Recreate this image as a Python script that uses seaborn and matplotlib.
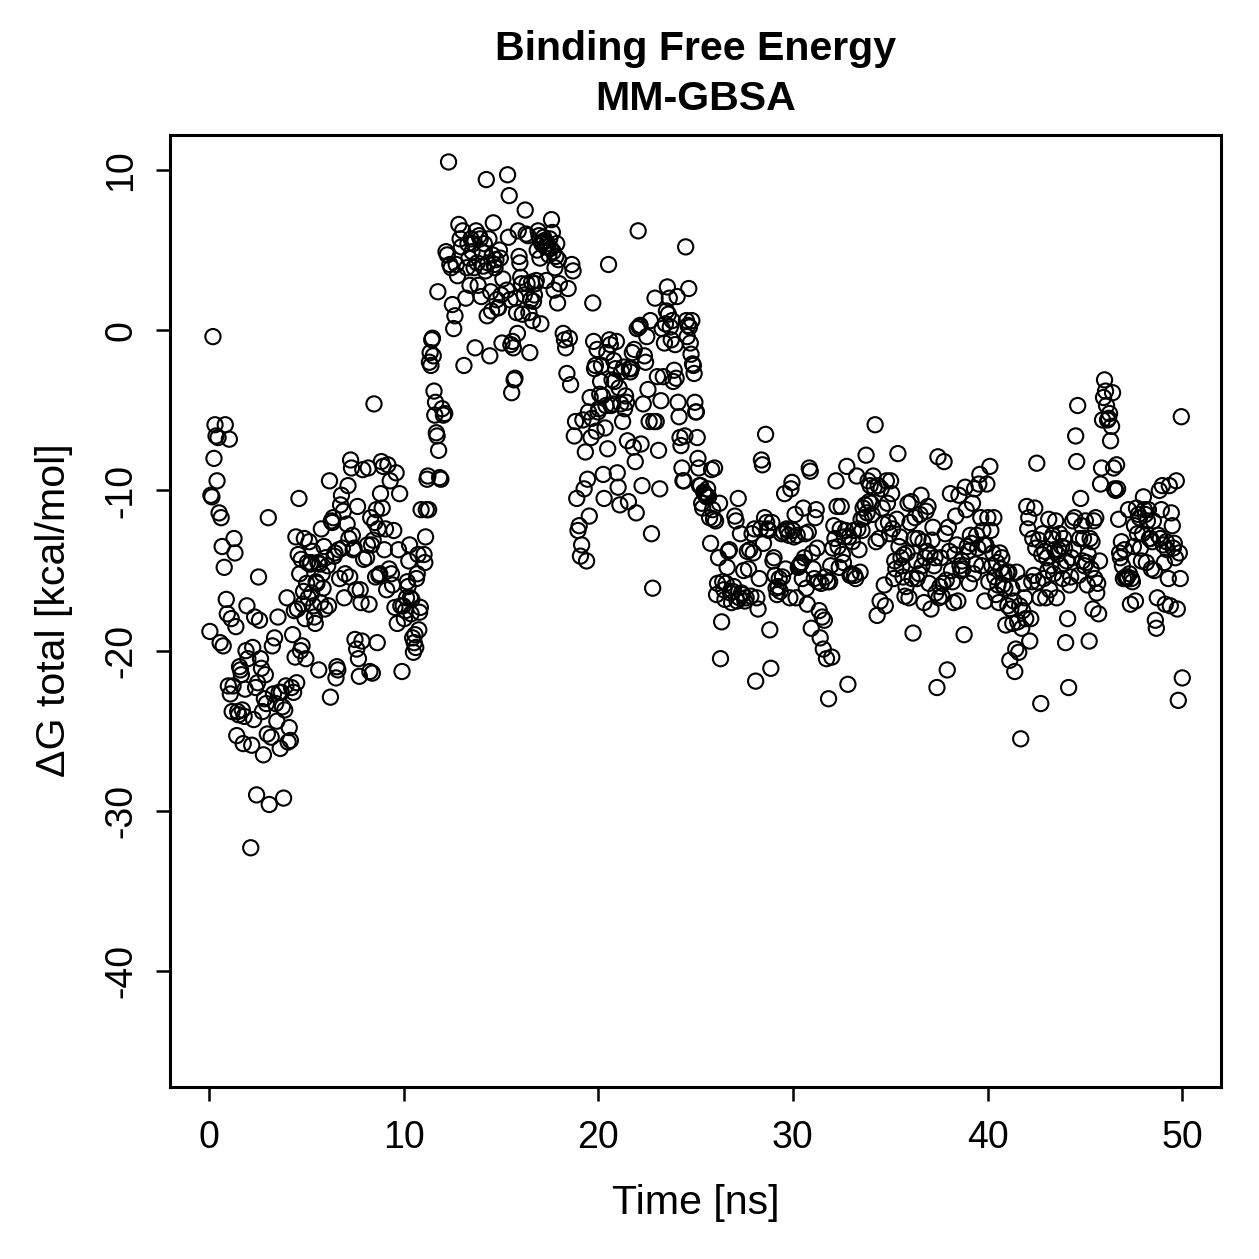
"""Binding free energy (MM-GBSA) over the trajectory, drawn like the R base plot."""
import numpy as np
import pandas as pd
import seaborn as sns
import matplotlib.pyplot as plt

# time window (ns) of each block of frames
block_start = [0.05, 1.1, 2.15, 3.2, 4.35, 5.15, 6.1, 7.1, 8.1, 8.95,
               10.15, 11.05, 11.85, 13.2, 14.25, 15.3, 16.2, 17.15, 18.2, 19.45,
               20.35, 21.25, 22.25, 23.45, 24.45, 25.26, 26.28, 27.41, 28.38, 29.41,
               30.43, 31.45, 32.48, 33.5, 34.53, 35.55, 36.58, 37.6, 38.63, 39.65,
               40.68, 41.7, 42.73, 43.75, 44.78, 45.8, 46.82, 47.85, 48.87]
block_end = [1.05, 2.0, 3.1, 4.3, 5.1, 6.0, 7.0, 7.95, 8.9, 10.1,
             10.9, 11.8, 13.1, 14.2, 15.1, 16.1, 17.1, 18.0, 19.4, 20.3,
             21.2, 22.2, 23.4, 24.4, 25.2, 26.23, 27.36, 28.33, 29.35, 30.38,
             31.4, 32.43, 33.45, 34.48, 35.5, 36.53, 37.55, 38.58, 39.6, 40.63,
             41.65, 42.68, 43.7, 44.73, 45.75, 46.78, 47.8, 48.82, 50.0]

# delta G total (kcal/mol) per block
dg_blocks = [
    [-18.8, -10.3, -10.4, -0.4, -8.0, -5.9, -6.6, -9.4, -6.7, -11.4, -19.5, -11.7, -13.5, -19.7, -14.8, -5.9, -16.8, -17.7, -22.2, -6.8],
    [-22.7, -18.0, -23.8, -22.2, -13.0, -13.9, -18.5, -25.3, -23.8, -24.0, -21.0, -21.2, -21.5, -23.7, -25.8, -24.1, -22.4, -20.0, -17.2, -20.5],
    [-32.3, -25.9, -19.8, -24.3, -17.9, -22.3, -29.0, -22.0, -15.4, -18.1, -20.5, -21.1, -23.8, -26.5, -23.0, -21.5, -23.3, -25.2, -11.7, -29.6],
    [-25.4, -19.7, -22.7, -19.2, -23.3, -24.4, -17.9, -22.6, -26.1, -22.6, -23.5, -29.2, -23.7, -22.2, -16.7, -25.7, -24.8, -25.6, -22.3, -19.0],
    [-22.6, -17.5, -20.4, -12.9, -22.0, -17.4, -14.0, -10.5, -15.2, -20.0, -14.3, -19.7, -17.1, -16.3, -13.0, -18.0, -20.5, -15.8, -14.5, -16.7],
    [-13.2, -14.6, -14.5, -16.4, -13.8, -17.2, -17.9, -18.3, -15.7, -15.8, -14.5, -21.2, -14.6, -17.0, -12.4, -15.2, -16.1, -13.5, -17.4, -14.2],
    [-14.7, -17.2, -9.4, -22.9, -11.9, -12.0, -11.7, -14.1, -13.9, -21.7, -21.0, -21.2, -13.7, -15.5, -10.9, -10.3, -13.6, -11.3, -16.7, -15.2],
    [-12.1, -9.7, -13.0, -15.4, -8.1, -8.6, -12.8, -13.7, -13.6, -19.3, -16.2, -19.9, -11.0, -20.5, -21.6, -16.2, -17.0, -19.4, -8.7, -14.3],
    [-14.2, -13.4, -8.6, -17.1, -21.3, -11.7, -13.4, -21.4, -13.1, -4.6, -12.0, -15.4, -11.2, -19.5, -12.4, -15.3, -15.2, -10.2, -8.2, -11.1],
    [-8.5, -13.7, -12.4, -16.2, -8.4, -14.9, -9.4, -15.2, -15.9, -12.5, -17.3, -8.9, -18.3, -13.7, -10.2, -17.2, -21.3, -17.2, -18.0, -17.5],
    [-16.7, -15.7, -16.0, -14.4, -13.4, -16.7, -17.7, -16.8, -19.2, -20.1, -19.5, -19.0, -19.8, -15.5, -15.2, -14.0, -18.7, -17.6, -17.3, -11.2],
    [-14.0, -14.5, -12.9, -11.2, -9.3, -9.1, -11.2, -2.0, -1.4, -2.2, -0.6, -0.5, -1.6, -3.8, -5.3, -4.5, -6.4, -6.6, 2.4, -7.5],
    [-9.2, -9.3, -4.9, -5.3, -5.2, 4.9, 4.7, 10.5, 4.1, 3.9, 1.6, 0.1, 0.9, 4.1, 3.4, 6.6, 5.7, 5.2, 6.2, -2.2],
    [2.0, 3.9, 5.4, 4.5, 2.8, 5.7, 4.9, 5.4, 3.9, -1.1, 6.2, 4.2, 2.8, 5.9, 5.7, 2.1, 4.9, 4.0, 5.4, 3.7],
    [9.4, 0.9, 4.2, 5.7, -1.6, 2.4, 1.2, 4.7, 6.7, 4.1, 3.9, 4.4, 1.9, 1.4, 1.4, 5.0, 4.5, 2.2, -0.8, 3.2],
    [2.5, 9.7, 5.8, 8.4, 1.9, -0.9, -3.9, -0.7, -1.1, -3.1, -3.0, 2.0, 1.1, -0.2, 6.2, 4.6, 4.2, 3.3, 2.9, 1.0],
    [2.2, 7.5, 6.0, 2.9, 5.9, 1.1, -1.4, 1.9, 3.0, 0.6, 1.8, 2.2, 2.9, 3.1, 5.0, 6.2, 5.9, 4.5, 0.4, 5.4],
    [5.5, 5.8, 5.6, 5.2, 3.1, 5.4, 5.2, 4.7, 5.7, 5.1, 6.9, 6.1, 4.9, 2.5, 3.9, 4.6, 5.4, 1.7, 4.4, 2.9],
    [-0.2, -0.6, -1.1, -2.7, 2.6, -0.5, -3.4, 4.1, 3.7, -6.6, -5.7, -10.5, -12.5, -12.2, -14.1, -13.4, -5.6, -9.9, -7.6, -14.4],
    [-9.3, -5.1, -11.6, -4.2, -6.7, -5.5, 1.7, -0.7, -2.4, -2.2, -6.3, -1.2, -5.1, -4.9, -4.0, -3.2, -2.2, -4.1, -9.0, -10.5],
    [-6.1, -4.7, -1.4, -7.4, 4.1, -0.6, -0.9, -4.7, -3.1, -4.6, -1.9, -3.2, -2.4, -0.7, -8.9, -9.8, -3.6, -10.9, -4.6, -2.6],
    [-5.7, -2.3, -4.9, -4.1, -4.5, -6.9, -10.7, -2.4, -2.6, -2.4, -1.4, -7.3, -1.2, -8.2, -11.4, 0.1, 6.2, 0.2, 0.3, -7.1],
    [-9.7, -4.6, -1.6, -2.0, -0.4, -3.7, -5.7, 0.6, -12.7, -16.1, -5.7, 2.0, -5.7, -2.9, -7.5, -9.9, -4.4, 0.1, -2.9, -0.8],
    [0.4, 1.2, 2.7, 1.0, 2.0, 0.2, -0.6, 0.6, -3.2, -2.5, -0.9, -3.0, 2.1, -4.5, -5.4, -6.7, -7.2, -8.6, -9.4, -9.4],
    [-6.6, 5.2, 0.6, -0.4, 0.3, 2.6, 0.2, -0.8, -1.5, 0.6, -2.1, -2.2, -2.7, -4.5, -5.1, -5.1, -6.7, -8.0, -8.6, -9.7],
    [-9.7, -10.8, -11.1, -10.1, -10.2, -10.3, -10.4, -9.9, -10.4, -11.7, -13.3, -8.7, -11.2, -11.8, -8.6, -11.9, -16.5, -15.8, -14.2, -10.8],
    [-20.5, -18.2, -15.7, -16.2, -16.8, -15.8, -14.8, -13.8, -13.7, -16.4, -17.0, -16.3, -16.0, -11.6, -11.9, -16.9, -10.5, -16.7, -12.7, -16.4],
    [-16.5, -15.0, -16.9, -16.7, -13.8, -14.9, -13.7, -16.6, -12.7, -13.9, -12.4, -21.9, -16.7, -17.4, -15.5, -12.4],
    [-8.1, -8.4, -13.3, -11.7, -6.5, -12.0, -12.4, -12.5, -18.7, -21.1, -12.0, -14.4, -14.2, -15.3, -16.1, -16.5, -16.0, -15.5, -16.3],
    [-12.7, -15.4, -12.6, -10.2, -14.9, -12.4, -12.5, -12.8, -16.7, -9.9, -9.5, -12.5, -12.9, -11.5, -16.7, -12.8, -14.8, -14.7, -14.6],
    [-14.5, -15.5, -11.1, -14.2, -12.7, -16.1, -17.1, -12.6, -8.6, -8.8, -18.6, -13.9, -14.9, -15.5, -11.7, -11.2, -13.6, -15.7, -17.5, -19.2],
    [-15.8, -17.9, -19.9, -18.1, -15.4, -20.5, -15.7, -23.0, -15.7, -14.7, -20.4, -13.6, -12.2, -13.0, -9.4, -11.0, -13.5, -14.8, -12.4],
    [-11.0, -14.0, -14.5, -12.9, -12.5, -8.5, -22.1, -12.9, -15.3, -15.2, -13.2, -12.5, -15.3, -15.5, -9.1, -12.4, -13.7, -15.1],
    [-11.8, -12.5, -11.1, -11.7, -10.9, -7.8, -11.4, -9.4, -10.7, -9.7, -10.8, -11.5, -9.1, -9.8, -5.9, -13.2, -17.8, -9.7, -13.0, -16.9],
    [-9.9, -11.1, -12.1, -15.9, -17.2, -9.4, -10.8, -12.0, -12.7, -9.4, -10.2, -12.4, -15.5, -14.4, -14.9, -11.8, -7.7, -13.5, -12.9],
    [-14.2, -14.7, -15.4, -14.0, -16.6, -16.0, -13.9, -10.8, -16.7, -12.0, -10.7, -15.5, -18.9, -13.0, -11.7, -14.4, -15.5, -13.0, -15.2, -11.5],
    [-10.3, -14.7, -13.2, -17.0, -14.2, -11.3, -13.8, -11.0, -15.8, -14.0, -17.4, -13.1, -12.3, -14.7, -14.2, -16.4, -22.3, -7.9, -16.7, -16.0],
    [-14.2, -16.6, -15.8, -8.2, -12.7, -15.6, -21.2, -12.3, -13.8, -10.2, -15.0, -15.7, -17.0, -14.0, -11.6, -13.4, -16.9, -10.3, -14.7],
    [-15.0, -14.4, -14.9, -19.0, -9.8, -11.2, -13.5, -13.8, -15.8, -12.8, -13.3, -10.8, -15.2, -9.9, -14.6, -12.8, -13.6, -9.6, -9.0],
    [-11.7, -14.7, -12.5, -13.4, -16.9, -13.4, -9.6, -11.7, -15.7, -8.5, -12.5, -14.7, -13.9, -11.7, -15.4, -16.5, -14.5, -15.9, -17.0, -13.9],
    [-14.9, -14.2, -15.9, -15.2, -16.1, -18.4, -15.1, -17.2, -15.1, -20.6, -17.4, -16.1, -18.3, -16.9, -21.3, -19.9, -15.1, -18.2, -20.1, -17.2],
    [-25.5, -18.6, -17.5, -15.8, -16.7, -18.0, -11.0, -12.4, -11.7, -19.4, -18.0, -15.7, -13.0, -15.3, -11.1, -13.6, -8.3, -15.7, -13.1, -16.7],
    [-23.3, -14.0, -12.7, -15.5, -13.8, -16.7, -14.2, -15.0, -11.8, -16.2, -14.7, -13.0, -12.8, -15.2, -13.7, -11.9, -16.7, -14.0, -13.7, -12.7],
    [-14.7, -13.5, -15.5, -13.0, -13.6, -19.5, -14.4, -18.0, -22.3, -15.9, -15.4, -14.2, -11.9, -13.7, -11.7, -6.6, -8.2, -4.7, -15.3, -13.0],
    [-10.5, -12.2, -14.4, -13.0, -14.7, -11.9, -14.5, -15.9, -14.0, -19.4, -13.0, -14.9, -13.2, -17.4, -11.9, -15.5, -11.7, -16.4, -15.8, -17.7, -14.4],
    [-9.6, -8.6, -5.6, -4.2, -3.1, -3.8, -4.7, -5.6, -5.5, -5.2, -6.9, -6.0, -3.9, -8.6, -9.9, -10.0, -8.4, -9.9, -11.8, -13.9],
    [-14.2, -13.2, -14.7, -15.5, -13.7, -15.4, -15.5, -15.4, -11.2, -15.2, -17.1, -15.5, -15.7, -13.5, -12.2, -16.9, -11.1, -12.7, -11.5, -11.7],
    [-13.6, -14.4, -12.7, -10.4, -11.2, -11.5, -14.5, -11.9, -11.2, -13.0, -13.0, -14.9, -13.2, -11.9, -15.0, -18.1, -18.6, -16.7, -12.8, -10.0],
    [-13.0, -11.2, -9.7, -13.4, -14.5, -17.1, -13.2, -13.7, -15.5, -9.7, -17.2, -11.4, -12.2, -13.6, -13.3, -14.2, -9.4, -17.4, -23.1, -13.9, -15.5, -5.4, -21.7],
]

x_ticks = [0, 10, 20, 30, 40, 50]
y_ticks = [-40, -30, -20, -10, 0, 10]
y_tick_labels = ['-40', '-30', '-20', '-10', '0', '10']

time_ns = np.concatenate([np.linspace(a, b, len(v))
                          for a, b, v in zip(block_start, block_end, dg_blocks)])
dg_total = np.concatenate(dg_blocks)
df = pd.DataFrame({'time': time_ns, 'dg': dg_total})

sns.set_style('ticks')
plt.rcParams['font.family'] = ['Liberation Sans', 'DejaVu Sans']
plt.rcParams['text.color'] = 'black'
plt.rcParams['axes.labelcolor'] = 'black'

fig = plt.figure(figsize=(6.295, 6.295), dpi=200)
ax = fig.add_axes([0.135, 0.137, 0.835, 0.756])

sns.scatterplot(data=df, x='time', y='dg', ax=ax, marker='o', s=30,
                facecolor='none', edgecolor='black', linewidth=0.75)

ax.set_xlim(-2, 52)
ax.set_ylim(-47.2, 12.2)
ax.set_xticks(x_ticks)
ax.set_yticks(y_ticks)
ax.set_yticklabels(y_tick_labels, rotation=90, va='center')
ax.tick_params(direction='out', length=5, width=0.9, labelsize=13.5,
               color='black', labelcolor='black')
ax.tick_params(axis='x', pad=7)
ax.tick_params(axis='y', pad=6)
for spine in ax.spines.values():
    spine.set_visible(True)
    spine.set_linewidth(1.1)
    spine.set_color('black')

ax.set_xlabel('Time [ns]', fontsize=14.8, labelpad=10)
ax.set_ylabel('ΔG total [kcal/mol]', fontsize=14.8, labelpad=11)
ax.set_title('Binding Free Energy\nMM-GBSA', fontsize=14.8, fontweight='bold',
             color='black', linespacing=1.4, pad=9)

fig.savefig('out.png', dpi=200)
